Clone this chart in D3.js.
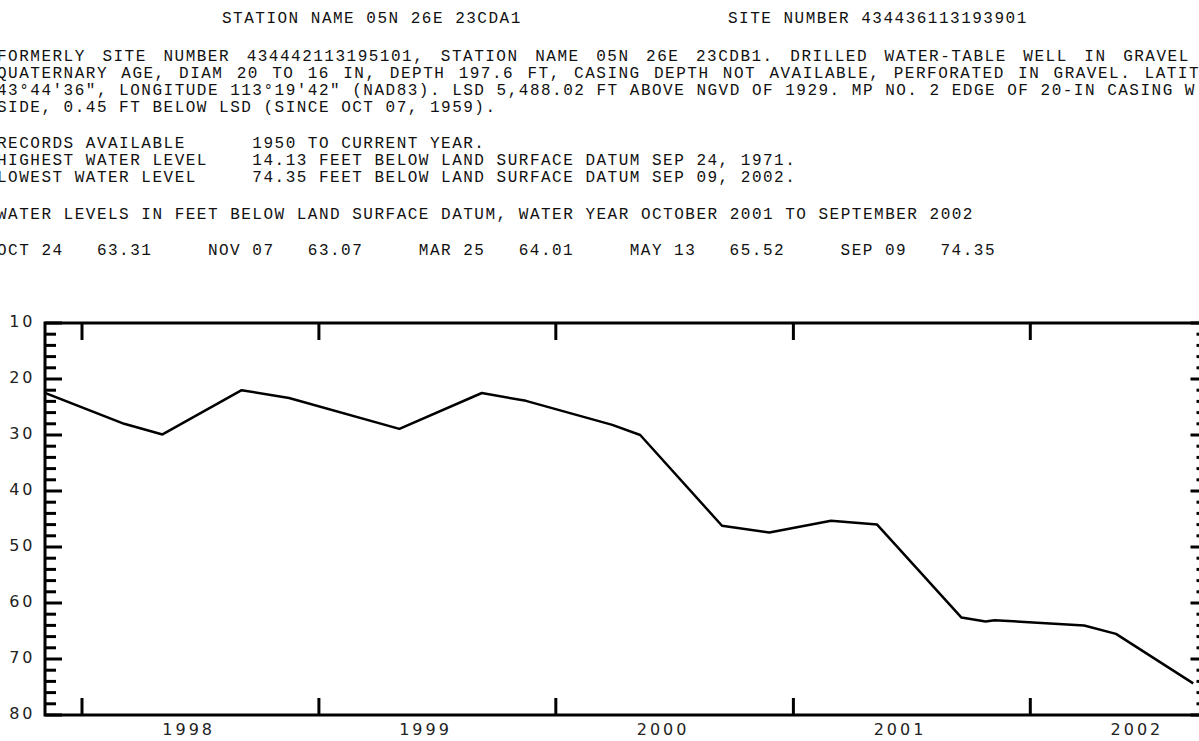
<!DOCTYPE html>
<html lang="en">
<head>
<meta charset="UTF-8">
<title>05N 26E 23CDA1 water levels</title>
<script src="https://d3js.org/d3.v7.min.js"></script>
<style>
  body { margin: 0; background: #fff; }
  .mono { font-family: "Liberation Mono", "Courier New", monospace; font-size: 16px; letter-spacing: 1.5px; white-space: pre; fill: #111; }
  .tick-label { font-family: "DejaVu Sans", Verdana, sans-serif; font-size: 16px; letter-spacing: 3px; fill: #222; }
</style>
</head>
<body>
<script>
// header text
const stationName = "STATION NAME 05N 26E 23CDA1";
const siteNumber = "SITE NUMBER 434436113193901";
const descLines = [
  "FORMERLY SITE NUMBER 434442113195101, STATION NAME 05N 26E 23CDB1. DRILLED WATER-TABLE WELL IN GRAVEL",
  "QUATERNARY AGE, DIAM 20 TO 16 IN, DEPTH 197.6 FT, CASING DEPTH NOT AVAILABLE, PERFORATED IN GRAVEL. LATIT",
  "43\u00b044'36\", LONGITUDE 113\u00b019'42\" (NAD83). LSD 5,488.02 FT ABOVE NGVD OF 1929. MP NO. 2 EDGE OF 20-IN CASING W",
  "SIDE, 0.45 FT BELOW LSD (SINCE OCT 07, 1959)."
];
const recordNames = ["RECORDS AVAILABLE", "HIGHEST WATER LEVEL", "LOWEST WATER LEVEL"];
const recordValues = [
  "1950 TO CURRENT YEAR.",
  "14.13 FEET BELOW LAND SURFACE DATUM SEP 24, 1971.",
  "74.35 FEET BELOW LAND SURFACE DATUM SEP 09, 2002."
];
const tableTitle = "WATER LEVELS IN FEET BELOW LAND SURFACE DATUM, WATER YEAR OCTOBER 2001 TO SEPTEMBER 2002";
const wyDates = ["OCT 24", "NOV 07", "MAR 25", "MAY 13", "SEP 09"];
const wyLevels = [63.31, 63.07, 64.01, 65.52, 74.35];

// hydrograph (feet below land surface)
const measDates = [
  "1997-11-05", "1998-03-07", "1998-05-05", "1998-09-04", "1998-11-16",
  "1999-05-05", "1999-09-09", "1999-11-16", "2000-03-28", "2000-05-10",
  "2000-09-13", "2000-11-25", "2001-02-28", "2001-05-10", "2001-09-17",
  "2001-10-24", "2001-11-07", "2002-03-25", "2002-05-13", "2002-09-09"
];
const measLevels = [
  22.5, 28.0, 29.9, 22.0, 23.4,
  28.9, 22.5, 23.9, 28.2, 30.0,
  46.2, 47.4, 45.3, 46.0, 62.6,
  63.31, 63.07, 64.01, 65.52, 74.35
];
const yearTicks = [1998, 1999, 2000, 2001, 2002];
const depthTicks = [10, 20, 30, 40, 50, 60, 70, 80];

const width = 1199, height = 741;
const plotLeft = 45, plotRight = 1207.5, plotTop = 323, plotBottom = 715;
const charW = 11.1;

const svg = d3.select("body").append("svg")
  .attr("width", width)
  .attr("height", height);

// ---- text block ----
svg.append("text").attr("class", "mono").attr("x", 222).attr("y", 23).text(stationName);
svg.append("text").attr("class", "mono").attr("x", 728).attr("y", 23).text(siteNumber);

// the description is set justified in the original, so word gaps differ per line
const descSpacing = [5.5, 2.2, 0, 0];
svg.selectAll("text.desc").data(descLines).join("text")
  .attr("class", "mono desc")
  .attr("x", -3)
  .attr("y", (d, i) => 61 + i * 17)
  .style("word-spacing", (d, i) => descSpacing[i] + "px")
  .text(d => d);

svg.selectAll("text.rec").data(recordNames).join("text")
  .attr("class", "mono rec")
  .attr("x", -3)
  .attr("y", (d, i) => 148 + i * 17)
  .text((d, i) => d.padEnd(23, " ") + recordValues[i]);

svg.append("text").attr("class", "mono").attr("x", -3).attr("y", 219).text(tableTitle);

svg.selectAll("text.wy").data(wyDates).join("text")
  .attr("class", "mono wy")
  .attr("x", (d, i) => -3 + i * 19 * charW)
  .attr("y", 255)
  .text((d, i) => d + "   " + wyLevels[i].toFixed(2));

// ---- scales ----
const x = d3.scaleUtc()
  .domain([new Date("1997-11-05"), new Date("2002-10-01")])
  .range([plotLeft, plotRight]);

const y = d3.scaleLinear()
  .domain([10, 80])
  .range([plotTop, plotBottom]);

const g = svg.append("g");

// frame
g.append("rect")
  .attr("x", plotLeft).attr("y", plotTop)
  .attr("width", plotRight - plotLeft).attr("height", plotBottom - plotTop)
  .attr("fill", "none").attr("stroke", "#000").attr("stroke-width", 3);

// depth ticks, both sides
const minor = d3.range(12, 80, 2).filter(v => v % 10 !== 0);
const yTicks = depthTicks.map(v => ({ v, len: 17 })).concat(minor.map(v => ({ v, len: 11 })));

g.selectAll("line.yl").data(yTicks).join("line")
  .attr("class", "yl")
  .attr("x1", plotLeft).attr("x2", d => plotLeft + d.len)
  .attr("y1", d => y(d.v)).attr("y2", d => y(d.v))
  .attr("stroke", "#000").attr("stroke-width", 3);

g.selectAll("line.yr").data(yTicks).join("line")
  .attr("class", "yr")
  .attr("x1", plotRight).attr("x2", d => plotRight - d.len)
  .attr("y1", d => y(d.v)).attr("y2", d => y(d.v))
  .attr("stroke", "#000").attr("stroke-width", 3);

// year boundary ticks, top and bottom
const yearStarts = yearTicks.map(yr => new Date(Date.UTC(yr, 0, 1)));
g.selectAll("line.xt").data(yearStarts).join("line")
  .attr("class", "xt")
  .attr("x1", d => x(d)).attr("x2", d => x(d))
  .attr("y1", plotTop).attr("y2", plotTop + 17)
  .attr("stroke", "#000").attr("stroke-width", 3);

g.selectAll("line.xb").data(yearStarts).join("line")
  .attr("class", "xb")
  .attr("x1", d => x(d)).attr("x2", d => x(d))
  .attr("y1", plotBottom).attr("y2", plotBottom - 17)
  .attr("stroke", "#000").attr("stroke-width", 3);

// labels
svg.selectAll("text.ylab").data(depthTicks).join("text")
  .attr("class", "tick-label ylab")
  .attr("x", 35.5)
  .attr("y", d => y(d) + 4)
  .attr("text-anchor", "end")
  .text(d => d);

svg.selectAll("text.xlab").data(yearTicks).join("text")
  .attr("class", "tick-label xlab")
  .attr("x", yr => x(new Date(Date.UTC(yr, 5, 12))) + 1.5)
  .attr("y", 735)
  .attr("text-anchor", "middle")
  .text(d => d);

// water level line
svg.append("clipPath").attr("id", "plot-clip")
  .append("rect")
  .attr("x", plotLeft).attr("y", plotTop)
  .attr("width", plotRight - plotLeft).attr("height", plotBottom - plotTop);

const series = measDates.map((d, i) => ({ date: new Date(d), level: measLevels[i] }));

g.append("path")
  .datum(series)
  .attr("clip-path", "url(#plot-clip)")
  .attr("fill", "none")
  .attr("stroke", "#000")
  .attr("stroke-width", 2.5)
  .attr("stroke-linejoin", "round")
  .attr("d", d3.line().x(d => x(d.date)).y(d => y(d.level)));
</script>
</body>
</html>
